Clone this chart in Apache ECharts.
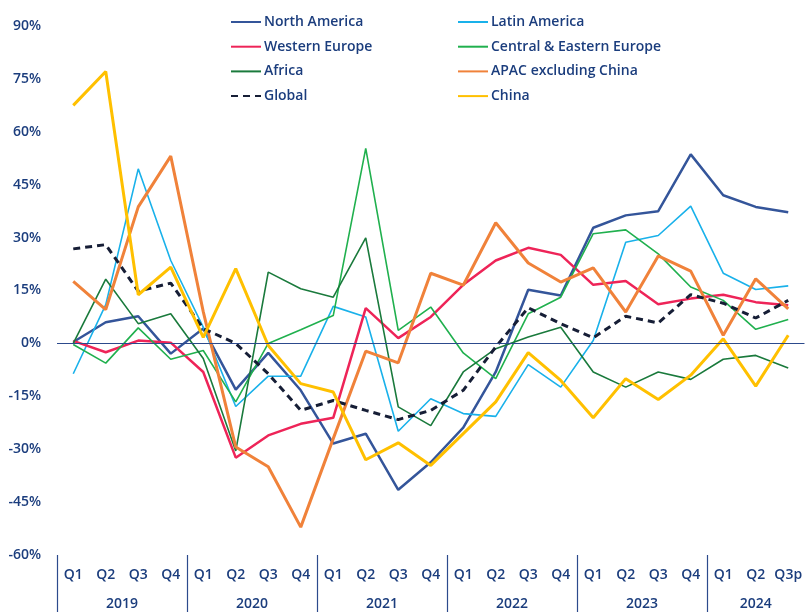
<!DOCTYPE html>
<html>
<head>
<meta charset="utf-8">
<script src="https://cdn.jsdelivr.net/npm/echarts@6/dist/echarts.min.js"></script>
<style>
  html, body { margin: 0; padding: 0; background: #fff; }
  #chart { width: 805px; height: 612px; }
</style>
</head>
<body>
<div id="chart"></div>
<script>
// quarters and the year each block of quarters belongs to
const quarters = ['Q1','Q2','Q3','Q4','Q1','Q2','Q3','Q4','Q1','Q2','Q3','Q4',
                  'Q1','Q2','Q3','Q4','Q1','Q2','Q3','Q4','Q1','Q2','Q3p']
const years = ['2019','2020','2021','2022','2023','2024']
const quartersPerYear = [4, 4, 4, 4, 4, 3]

// y/y change, %
const northAmerica = [0.4, 6, 7.7, -2.9, 4.2, -13.1, -2.7, -13.3, -28.4, -25.6, -41.5, -33.7, -23.9, -8.1, 15.2, 13.6, 32.8, 36.3, 37.5, 53.6, 42, 38.7, 37.2]
const latinAmerica = [-8.6, 11, 49.5, 23.5, 4.6, -17.9, -9.3, -9.3, 10.5, 7.5, -24.9, -15.7, -19.9, -20.7, -6, -12.4, 0.8, 28.7, 30.6, 38.9, 19.9, 15.3, 16.3]
const westernEurope = [0.7, -2.5, 0.8, 0.2, -8.1, -32.4, -26.1, -22.8, -21.1, 10, 1.5, 7.5, 16.6, 23.5, 27.1, 25.1, 16.6, 17.7, 11.1, 12.7, 13.8, 11.7, 10.8]
const ceEurope = [-0.3, -5.6, 4.4, -4.5, -2, -16.6, 0, 3.9, 7.9, 55.3, 3.7, 10.3, -2.7, -10, 8.4, 13.1, 31.1, 32.2, 25.4, 16, 12.2, 4, 6.8]
const africa = [0, 18.2, 5.6, 8.4, -4.3, -30.5, 20.2, 15.5, 13.1, 29.9, -18, -23.3, -8.1, -1.5, 1.8, 4.6, -8.1, -12.4, -8.1, -10.2, -4.5, -3.4, -7]
const apacExChina = [17.6, 9.6, 38.7, 53.1, 9, -29.4, -35, -52.1, -27, -2.2, -5.5, 19.9, 16.5, 34.2, 22.8, 17.4, 21.4, 8.9, 24.8, 20.5, 2.3, 18.3, 9.8]
const global = [26.8, 28, 14.8, 17.1, 4.2, 0, -8.6, -19, -16.2, -19, -21.6, -19, -13.3, -1, 10.1, 5.6, 1.6, 7.7, 5.8, 13.8, 11.4, 7.2, 12.2]
const china = [67.5, 77.1, 13.8, 21.6, 1.7, 21.2, -0.6, -11.4, -13.8, -33, -28.2, -34.6, -25.6, -16.6, -2.6, -10.5, -21.1, -10, -15.9, -9, 1.3, -12.1, 2.3]

const navy = '#1b3d7d'
const font = 'Open Sans'

// second axis on half-band steps: year label in the middle of its block,
// separator tick at each block edge
const halfSteps = quarters.length * 2 + 1
const yearAxisData = new Array(halfSteps).fill('')
const yearEdges = []
let start = 0
years.forEach((y, i) => {
    const n = quartersPerYear[i]
    yearEdges.push(start * 2)
    yearAxisData[start * 2 + n] = y
    start += n
})

const chart = echarts.init(document.getElementById('chart'))

const line = (name, data, color, width, type) => ({
    name,
    type: 'line',
    data,
    symbol: 'none',
    lineStyle: { color, width, type: type || 'solid' },
    itemStyle: { color },
    emphasis: { disabled: true }
})

const series = [
    line('North America', northAmerica, '#34559a', 2.5),
    line('Latin America', latinAmerica, '#19b1ea', 1.6),
    line('Western Europe', westernEurope, '#ee2458', 2.5),
    line('Central & Eastern Europe', ceEurope, '#20b04e', 1.6),
    line('Africa', africa, '#1a7a3c', 1.6),
    line('APAC excluding China', apacExChina, '#f0823a', 3),
    line('Global', global, '#161e36', 3, [7, 5]),
    line('China', china, '#ffc000', 3)
]
series[0].markLine = {
    silent: true,
    symbol: 'none',
    label: { show: false },
    lineStyle: { color: '#2c4a8c', width: 1.2, type: 'solid' },
    data: [{ yAxis: 0 }]
}

const legendBase = {
    orient: 'vertical',
    top: 10,
    itemWidth: 30,
    itemHeight: 14,
    itemGap: 10.7,
    selectedMode: false,
    itemStyle: { opacity: 0 },   // line only, no symbol in the key
    textStyle: { color: navy, fontSize: 14, fontFamily: font, fontWeight: 600, padding: [0, 0, 0, -2] }
}

chart.setOption({
    animation: false,
    backgroundColor: '#fff',
    legend: [
        Object.assign({}, legendBase, { left: 225, data: ['North America', 'Western Europe', 'Africa', 'Global'] }),
        Object.assign({}, legendBase, { left: 452, data: ['Latin America', 'Central & Eastern Europe', 'APAC excluding China', 'China'] })
    ],
    grid: { left: 57, top: 26, bottom: 57, width: 752 },
    xAxis: [
        {
            type: 'category',
            data: quarters,
            axisLine: { show: false },
            axisTick: { show: false },
            axisLabel: {
                interval: 0, margin: 13, color: navy,
                fontSize: 14, fontFamily: font, fontWeight: 600
            }
        },
        {
            type: 'category',
            data: yearAxisData,
            boundaryGap: false,
            position: 'bottom',
            axisLine: { show: false },
            axisTick: {
                show: true,
                interval: (idx) => yearEdges.includes(idx),
                length: 57,
                lineStyle: { color: '#2c4a8c', width: 1.2 }
            },
            axisLabel: {
                interval: (idx, val) => val !== '',
                margin: 42, color: navy,
                fontSize: 14, fontFamily: font, fontWeight: 600
            }
        }
    ],
    yAxis: {
        type: 'value',
        min: -60,
        max: 90,
        interval: 15,
        splitLine: { show: false },
        axisLine: { show: false },
        axisTick: { show: false },
        axisLabel: {
            formatter: '{value}%', margin: 16, color: navy,
            fontSize: 14, fontFamily: font, fontWeight: 600
        }
    },
    series
})
</script>
</body>
</html>
